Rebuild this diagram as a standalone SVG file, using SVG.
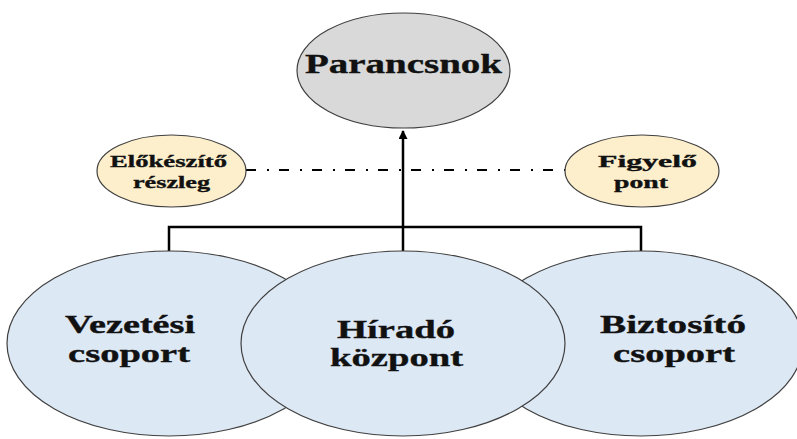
<svg xmlns="http://www.w3.org/2000/svg" width="797" height="439" viewBox="0 0 797 439">
  <style>
    .node { stroke: #404040; stroke-width: 1.2; }
    .cmd { fill: #d9d9d9; }
    .aux { fill: #fdefcc; }
    .grp { fill: #dde8f5; }
    .lbl { font-family: "Liberation Serif", "Times New Roman", serif; font-weight: bold; fill: #111; stroke: #111; stroke-width: 0.35; text-anchor: middle; }
    .big { font-size: 27px; }
    .mid { font-size: 25.5px; }
    .small { font-size: 16.5px; }
    .link { fill: none; stroke: #000; stroke-width: 2.5; }
    .dashdot { fill: none; stroke: #000; stroke-width: 2; stroke-dasharray: 10 11 2 10; }
  </style>
  <defs>
    <marker id="arrow" markerWidth="9" markerHeight="9" refX="8" refY="4.5" orient="auto" markerUnits="userSpaceOnUse">
      <path d="M0,0 L9,4.5 L0,9 Z" fill="#000"/>
    </marker>
  </defs>

  <rect width="797" height="439" fill="#fff"/>

  <!-- connectors -->
  <g id="connectors">
    <path class="link" d="M169,252 V227 H641 V252"/>
    <line class="link" x1="403" y1="252" x2="403" y2="131" marker-end="url(#arrow)"/>
    <line class="dashdot" x1="246" y1="170" x2="565" y2="170"/>
  </g>

  <!-- labels are set in a wide (horizontally scaled) bold serif -->
  <g id="parancsnok">
    <ellipse class="node cmd" cx="403.5" cy="70.5" rx="106.5" ry="57.5"/>
    <text class="lbl big" transform="matrix(1.45 0 0 1 403.5 73)" textLength="135.9" lengthAdjust="spacingAndGlyphs">Parancsnok</text>
  </g>

  <g id="elokeszito-reszleg">
    <ellipse class="node aux" cx="171.5" cy="171" rx="74.5" ry="36"/>
    <text class="lbl small" transform="matrix(1.45 0 0 1 168.5 167)" textLength="80.7" lengthAdjust="spacingAndGlyphs">Előkészítő</text>
    <text class="lbl small" transform="matrix(1.45 0 0 1 171.5 188)" textLength="53.1" lengthAdjust="spacingAndGlyphs">részleg</text>
  </g>

  <g id="figyelo-pont">
    <ellipse class="node aux" cx="642" cy="171" rx="77" ry="36"/>
    <text class="lbl small" transform="matrix(1.45 0 0 1 647.5 167)" textLength="68.3" lengthAdjust="spacingAndGlyphs">Figyelő</text>
    <text class="lbl small" transform="matrix(1.45 0 0 1 641 188)" textLength="37.2" lengthAdjust="spacingAndGlyphs">pont</text>
  </g>

  <g id="vezetesi-csoport">
    <ellipse class="node grp" cx="169" cy="343.5" rx="162" ry="92.5"/>
    <text class="lbl mid" transform="matrix(1.45 0 0 1 130 333)" textLength="89.7" lengthAdjust="spacingAndGlyphs">Vezetési</text>
    <text class="lbl mid" transform="matrix(1.45 0 0 1 129 362)" textLength="84.1" lengthAdjust="spacingAndGlyphs">csoport</text>
  </g>

  <g id="biztosito-csoport">
    <ellipse class="node grp" cx="641" cy="343.5" rx="162" ry="92.5"/>
    <text class="lbl mid" transform="matrix(1.45 0 0 1 673 333)" textLength="100.7" lengthAdjust="spacingAndGlyphs">Biztosító</text>
    <text class="lbl mid" transform="matrix(1.45 0 0 1 674 362)" textLength="84.1" lengthAdjust="spacingAndGlyphs">csoport</text>
  </g>

  <g id="hirado-kozpont">
    <ellipse class="node grp" cx="403" cy="343.5" rx="162" ry="92.5"/>
    <text class="lbl mid" transform="matrix(1.45 0 0 1 396 338)" textLength="81.4" lengthAdjust="spacingAndGlyphs">Híradó</text>
    <text class="lbl mid" transform="matrix(1.45 0 0 1 396.5 366)" textLength="91.7" lengthAdjust="spacingAndGlyphs">központ</text>
  </g>
</svg>
